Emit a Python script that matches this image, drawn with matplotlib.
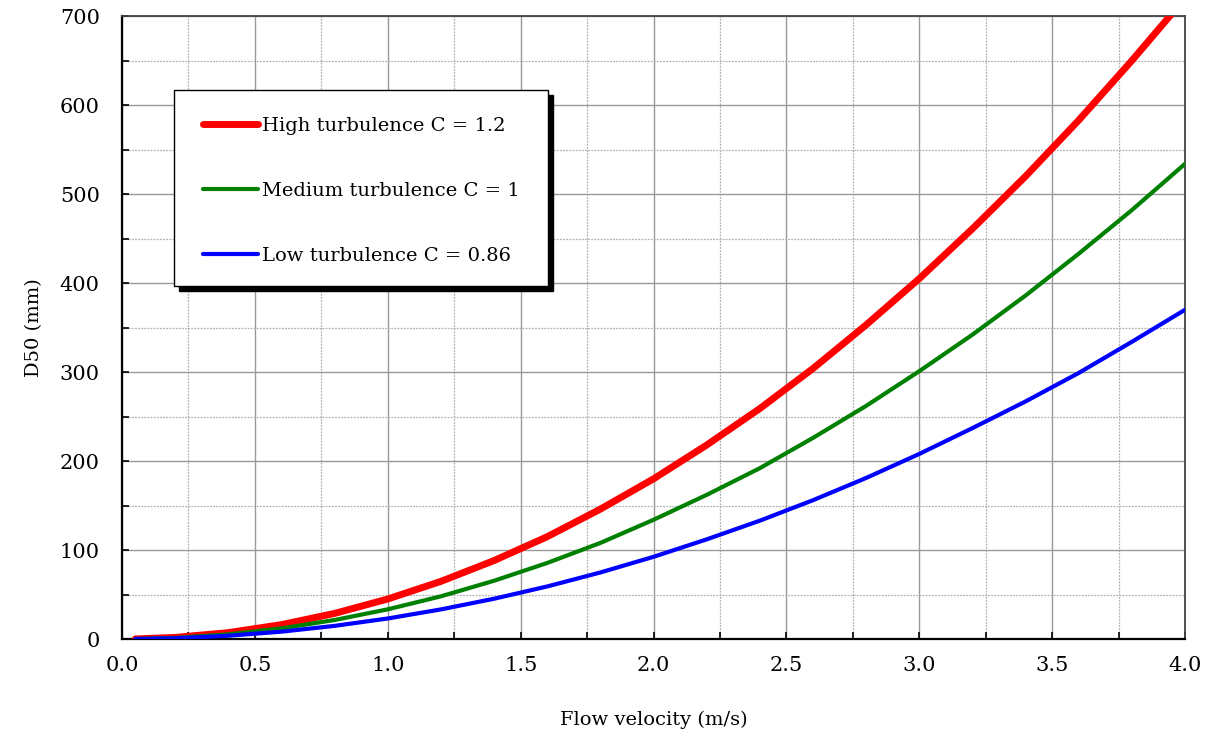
import numpy as np
import matplotlib.pyplot as plt
from matplotlib.patches import Rectangle

plt.rcParams['font.family'] = ['DejaVu Serif']

# flow velocity (m/s) and D50 (mm) for the three turbulence levels
velocity = [0.05, 0.2, 0.4, 0.6, 0.8, 1.0, 1.2, 1.4, 1.6, 1.8, 2.0,
            2.2, 2.4, 2.6, 2.8, 3.0, 3.2, 3.4, 3.6, 3.8, 4.0]
d50_high = [0.1, 1.8, 7.2, 16.2, 28.8, 45, 64.8, 88.2, 115, 146, 180,
            218, 259, 304, 353, 405, 461, 520, 583, 650, 720]
d50_medium = [0.1, 1.3, 5.3, 12, 21.4, 33.4, 48, 65.5, 85.5, 108, 134,
              162, 192, 226, 262, 301, 342, 386, 433, 482, 534]
d50_low = [0.06, 0.9, 3.7, 8.3, 14.8, 23.1, 33.3, 45.3, 59.1, 74.8, 92.4,
           112, 133, 156, 181, 208, 237, 267, 299, 334, 370]

labels = ["High turbulence C = 1.2", "Medium turbulence C = 1",
          "Low turbulence C = 0.86"]

fig = plt.figure(figsize=(12.06, 7.32), dpi=100)
ax = fig.add_axes([0.1012, 0.127, 0.8814, 0.851])

ax.plot(velocity, d50_high, color='#ff0000', lw=5, solid_capstyle='round', label=labels[0], zorder=5)
ax.plot(velocity, d50_medium, color='#008000', lw=3, solid_capstyle='round', label=labels[1], zorder=5)
ax.plot(velocity, d50_low, color='#0000ff', lw=3, solid_capstyle='round', label=labels[2], zorder=5)

ax.set_xlim(0, 4)
ax.set_ylim(0, 700)
ax.set_xticks(np.arange(0, 4.01, 0.5))
ax.set_xticks(np.arange(0, 4.01, 0.25), minor=True)
ax.set_yticks(np.arange(0, 701, 100))
ax.set_yticks(np.arange(0, 701, 50), minor=True)
ax.set_xticklabels([f"{v:.1f}" for v in np.arange(0, 4.01, 0.5)])

ax.grid(which='major', color='#999999', lw=1.0, ls='-')
ax.grid(which='minor', color='#b0b0b0', lw=0.9, ls=(0, (1.5, 1)))
ax.set_axisbelow(True)

ax.tick_params(which='both', direction='in', length=5, width=1.2,
               top=False, right=False, labelsize=15, colors='black')
ax.tick_params(axis='x', pad=12)
ax.tick_params(axis='y', pad=16)

for side in ['left', 'bottom']:
    ax.spines[side].set_linewidth(1.6)
    ax.spines[side].set_color('black')
for side in ['top', 'right']:
    ax.spines[side].set_linewidth(1.3)
    ax.spines[side].set_color('#444444')

ax.set_xlabel("Flow velocity (m/s)", fontsize=14, labelpad=26)
ax.set_ylabel("D50 (mm)", fontsize=14, labelpad=12)

# legend box with a solid black drop shadow
bx, by, bw, bh = 0.049, 0.567, 0.352, 0.314
dx, dy = 5 / 1063, 5 / 623
ax.add_patch(Rectangle((bx + dx, by - dy), bw, bh, transform=ax.transAxes,
                       facecolor='black', edgecolor='black', zorder=6))
ax.add_patch(Rectangle((bx, by), bw, bh, transform=ax.transAxes,
                       facecolor='white', edgecolor='black', lw=1.0, zorder=7))
leg = ax.legend(loc='upper left', bbox_to_anchor=(0.0762, 0.838), frameon=False,
                fontsize=14, labelspacing=2.42, handlelength=2.83, handletextpad=0.2,
                borderpad=0, borderaxespad=0)
leg.set_zorder(8)

fig.savefig("out.png", dpi=100)
